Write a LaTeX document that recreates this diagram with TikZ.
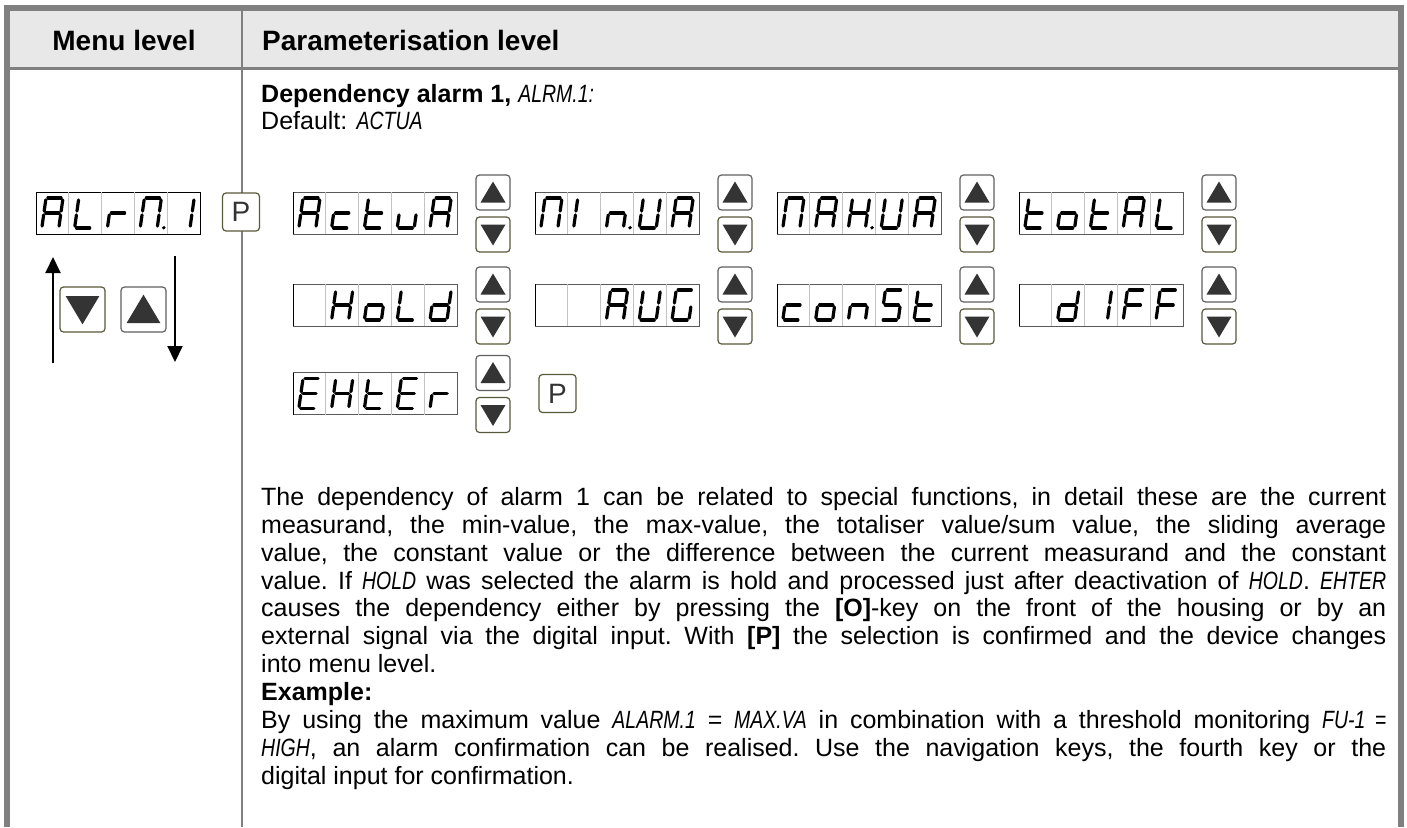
\documentclass[tikz,border=0pt]{standalone}
\usepackage{fontspec}
\setmainfont{Liberation Sans}
\newfontfamily\lcdfont[FakeStretch=0.78]{Liberation Sans}
\usetikzlibrary{arrows.meta,positioning,calc}
\setlength{\parindent}{0pt}
\definecolor{FrameGray}{RGB}{128,128,128}
\definecolor{HeadGray}{RGB}{232,232,232}
\definecolor{CellGray}{RGB}{195,195,195}
\definecolor{KeyOlive}{RGB}{88,88,58}
\definecolor{KeyGray}{RGB}{96,96,96}
\definecolor{KeyInk}{RGB}{52,52,52}
\newcommand{\txtfont}{\fontsize{25}{27.9}\selectfont}
\newcommand{\lcdtext}[1]{{\lcdfont\itshape #1}}
% seven segment pieces, glyph box 17pt x 30pt
\newcommand{\sga}{\draw[seg] (1.9pt,30pt) -- (15.1pt,30pt);}
\newcommand{\sgb}{\draw[seg] (17pt,28.1pt) -- (17pt,16.9pt);}
\newcommand{\sgc}{\draw[seg] (17pt,13.1pt) -- (17pt,1.9pt);}
\newcommand{\sgd}{\draw[seg] (1.9pt,0pt) -- (15.1pt,0pt);}
\newcommand{\sge}{\draw[seg] (0pt,1.9pt) -- (0pt,13.1pt);}
\newcommand{\sgf}{\draw[seg] (0pt,16.9pt) -- (0pt,28.1pt);}
\newcommand{\sgg}{\draw[seg] (1.9pt,15pt) -- (15.1pt,15pt);}
\newcommand{\sdpt}{\fill (23.6pt,0.3pt) circle (1.9pt);}
% letters
\newcommand{\sdA}{\sga\sgb\sgc\sge\sgf\sgg}
\newcommand{\sdL}{\sgd\sge\sgf}
\newcommand{\sdr}{\sge\sgg}
\newcommand{\sdM}{\sga\sgb\sgc\sge\sgf}
\newcommand{\sdI}{\sgb\sgc}
\newcommand{\sdi}{\sge\sgf}
\newcommand{\sdc}{\sgd\sge\sgg}
\newcommand{\sdt}{\sgd\sge\sgf\sgg}
\newcommand{\sdu}{\sgc\sgd\sge}
\newcommand{\sdn}{\sgc\sge\sgg}
\newcommand{\sdo}{\sgc\sgd\sge\sgg}
\newcommand{\sdH}{\sgb\sgc\sge\sgf\sgg}
\newcommand{\sdd}{\sgb\sgc\sgd\sge\sgg}
\newcommand{\sdG}{\sga\sgc\sgd\sge\sgf}
\newcommand{\sdS}{\sga\sgc\sgd\sgf\sgg}
\newcommand{\sdF}{\sga\sge\sgf\sgg}
\newcommand{\sdE}{\sga\sgd\sge\sgf\sgg}
\newcommand{\sdU}{\sgb\sgc\sgd\sge\sgf}
\newcommand{\lcdglyph}[3]{%
  \begin{scope}[shift={($(#1.south west)+({(#2-0.5)*32.8-10.6},-6)$)}, xslant=0.14]
    #3
  \end{scope}}
\newcommand{\lcdshow}[2]{%
  \foreach \k in {1,...,4}
    \draw[cellline] ($(#1.north west)+(\k*32.8,0)$) -- ($(#1.south west)+(\k*32.8,0)$);
  \draw[line width=1pt] (#1.north west) -- (#1.south west);
  \foreach \cl/\gl in {#2} {\lcdglyph{#1}{\cl}{\gl}}}
\tikzset{
  lcdbox/.style={draw=black!65, line width=0.8pt, minimum width=164pt,
    minimum height=42pt, inner sep=0pt, outer sep=0pt},
  cellline/.style={draw=CellGray, line width=0.8pt},
  seg/.style={line width=3.2pt, line cap=round},
  keybox/.style={rounded corners=3.5pt, line width=1.2pt, fill=white,
    minimum width=34pt, minimum height=35pt, inner sep=0pt, outer sep=0pt},
  upkey/.style={keybox, draw=KeyGray, path picture={
    \fill[KeyInk, sharp corners]
      ($(path picture bounding box.center)+({-12.5pt*#1},{-10pt*#1})$) --
      ($(path picture bounding box.center)+({12.5pt*#1},{-10pt*#1})$) --
      ($(path picture bounding box.center)+(0pt,{11pt*#1})$) -- cycle;}},
  upkey/.default=1,
  downkey/.style={keybox, draw=KeyOlive, path picture={
    \fill[KeyInk, sharp corners]
      ($(path picture bounding box.center)+({-12.5pt*#1},{10pt*#1})$) --
      ($(path picture bounding box.center)+({12.5pt*#1},{10pt*#1})$) --
      ($(path picture bounding box.center)+(0pt,{-11pt*#1})$) -- cycle;}},
  downkey/.default=1,
  bigkey/.style={minimum width=45pt, minimum height=45pt},
  pkey/.style={keybox, draw=KeyOlive, minimum width=37pt, minimum height=38pt,
    font=\fontsize{28}{28}\selectfont, text=black!80},
  headtext/.style={font=\fontsize{28}{32}\selectfont\bfseries, inner sep=0pt},
  arrow/.style={-{Triangle[width=15pt,length=16pt]}, line width=2pt}
}

\begin{document}
\begin{tikzpicture}[x=1pt, y=-1pt, node distance=78pt]
\useasboundingbox (0,0) rectangle (1407,827);
% table frame
\fill[HeadGray] (10,11) rectangle (1398,67);
\fill[FrameGray] (4,5) rectangle (1404,11);
\fill[FrameGray] (4,5) rectangle (10,827);
\fill[FrameGray] (1398,5) rectangle (1404,827);
\draw[FrameGray, line width=2.5pt] (10,68.5) -- (1398,68.5);
\draw[FrameGray, line width=2pt] (242,11) -- (242,827);
\node[headtext] (menuhead) at (124,40) {Menu level};
\node[headtext, anchor=west] (parahead) at (262,40) {Parameterisation level};

% menu level
\node[lcdbox, draw=black] (alrm) at (118,213) {};
\lcdshow{alrm}{1/\sdA, 2/\sdL, 3/\sdr, 4/{\sdM\sdpt}, 5/\sdI}
\node[pkey] (pmenu) at (241,212) {P};
\node[downkey=1.35, bigkey] (menudn) at (82.5,309.5) {};
\node[upkey=1.35, bigkey] (menuup) at (143.5,309.5) {};
\coordinate (upfoot) at (53,363);
\coordinate (uptip) at (53,257);
\coordinate (dnfoot) at (175,256);
\coordinate (dntip) at (175,362);
\draw[arrow] (upfoot) -- (uptip);
\draw[arrow] (dnfoot) -- (dntip);

% parameter texts
\node[anchor=base west, inner sep=0pt, font=\txtfont] (deptitle) at (261,102)
  {\textbf{Dependency alarm 1,} \lcdtext{ALRM.1:}};
\node[anchor=base west, inner sep=0pt, font=\txtfont] (default) at (261,129)
  {Default: \lcdtext{ACTUA}};

% row 1
\node[lcdbox] (actua) at (375,213) {};
\node[upkey, right=19pt of actua, yshift=20.5pt] (actuaup) {};
\node[downkey, right=19pt of actua, yshift=-21.5pt] (actuadn) {};
\node[lcdbox, right=of actua] (minua) {};
\node[upkey, right=19pt of minua, yshift=20.5pt] (minuaup) {};
\node[downkey, right=19pt of minua, yshift=-21.5pt] (minuadn) {};
\node[lcdbox, right=of minua] (maxua) {};
\node[upkey, right=19pt of maxua, yshift=20.5pt] (maxuaup) {};
\node[downkey, right=19pt of maxua, yshift=-21.5pt] (maxuadn) {};
\node[lcdbox, right=of maxua] (total) {};
\node[upkey, right=19pt of total, yshift=20.5pt] (totalup) {};
\node[downkey, right=19pt of total, yshift=-21.5pt] (totaldn) {};
\lcdshow{actua}{1/\sdA, 2/\sdc, 3/\sdt, 4/\sdu, 5/\sdA}
\lcdshow{minua}{1/\sdM, 2/\sdi, 3/{\sdn\sdpt}, 4/\sdU, 5/\sdA}
\lcdshow{maxua}{1/\sdM, 2/\sdA, 3/{\sdH\sdpt}, 4/\sdU, 5/\sdA}
\lcdshow{total}{1/\sdt, 2/\sdo, 3/\sdt, 4/\sdA, 5/\sdL}

% row 2
\node[lcdbox, below=50pt of actua] (hold) {};
\node[upkey, right=19pt of hold, yshift=20.5pt] (holdup) {};
\node[downkey, right=19pt of hold, yshift=-21.5pt] (holddn) {};
\node[lcdbox, right=of hold] (aug) {};
\node[upkey, right=19pt of aug, yshift=20.5pt] (augup) {};
\node[downkey, right=19pt of aug, yshift=-21.5pt] (augdn) {};
\node[lcdbox, right=of aug] (const) {};
\node[upkey, right=19pt of const, yshift=20.5pt] (constup) {};
\node[downkey, right=19pt of const, yshift=-21.5pt] (constdn) {};
\node[lcdbox, right=of const] (diff) {};
\node[upkey, right=19pt of diff, yshift=20.5pt] (diffup) {};
\node[downkey, right=19pt of diff, yshift=-21.5pt] (diffdn) {};
\lcdshow{hold}{2/\sdH, 3/\sdo, 4/\sdL, 5/\sdd}
\lcdshow{aug}{3/\sdA, 4/\sdU, 5/\sdG}
\lcdshow{const}{1/\sdc, 2/\sdo, 3/\sdn, 4/\sdS, 5/\sdt}
\lcdshow{diff}{2/\sdd, 3/\sdI, 4/\sdF, 5/\sdF}

% row 3
\node[lcdbox, below=46.5pt of hold] (ehter) {};
\node[upkey, right=19pt of ehter, yshift=20.5pt] (ehterup) {};
\node[downkey, right=19pt of ehter, yshift=-21.5pt] (ehterdn) {};
\lcdshow{ehter}{1/\sdE, 2/\sdH, 3/\sdt, 4/\sdE, 5/\sdr}
\coordinate (ehterk) at (ehterup.east |- ehter);
\node[pkey, right=29pt of ehterk] (pend) {P};

% description
\node[anchor=north west, text width=1125pt, align=justify, inner sep=0pt,
  font=\txtfont] (desc) at (261,487) {\tolerance=9999 \hyphenpenalty=10000 \frenchspacing
The dependency of alarm 1 can be related to special functions, in detail these are the current\linebreak
measurand, the min-value, the max-value, the totaliser value/sum value, the sliding average\linebreak
value, the constant value or the difference between the current measurand and the constant\linebreak
value. If \lcdtext{HOLD} was selected the alarm is hold and processed just after deactivation of \lcdtext{HOLD}. \lcdtext{EHTER}\linebreak
causes the dependency either by pressing the \textbf{[O]}-key on the front of the housing or by an\linebreak
external signal via the digital input. With \textbf{[P]} the selection is confirmed and the device changes\linebreak
into menu level.\par
\textbf{Example:}\par
By using the maximum value \lcdtext{ALARM.1} = \lcdtext{MAX.VA} in combination with a threshold monitoring \lcdtext{FU-1 =}\linebreak
\lcdtext{HIGH}, an alarm confirmation can be realised. Use the navigation keys, the fourth key or the\linebreak
digital input for confirmation.};
\end{tikzpicture}
\end{document}
